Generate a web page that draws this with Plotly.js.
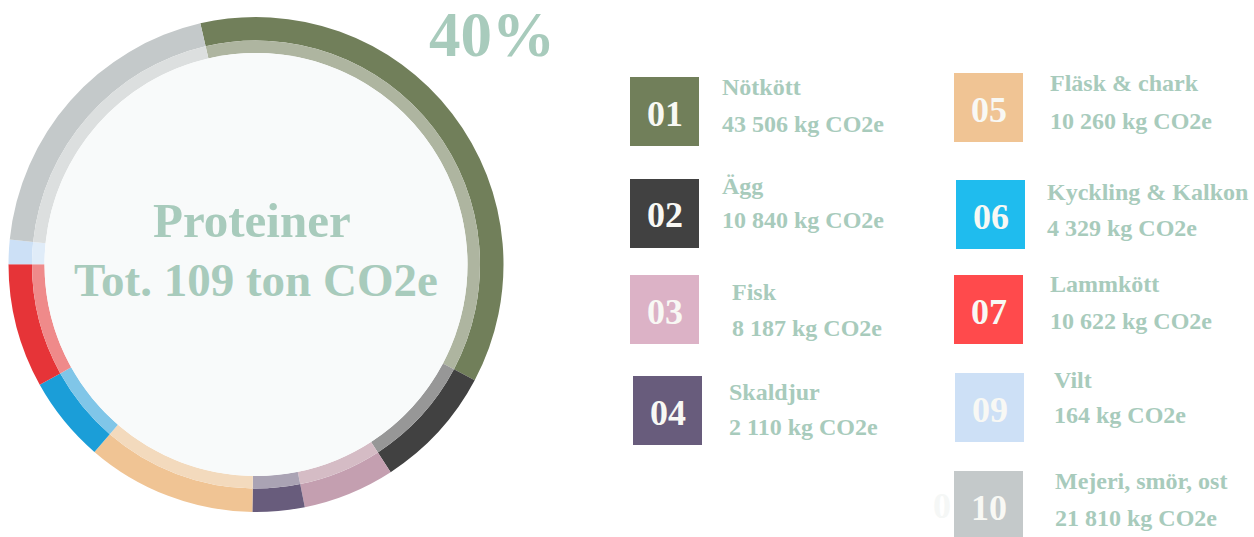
<!DOCTYPE html>
<html>
<head>
<meta charset="utf-8">
<script src="https://cdn.plot.ly/plotly-3.0.1.min.js"></script>
<style>
html,body{margin:0;padding:0;background:#ffffff;}
#chart{width:1254px;height:537px;}
</style>
</head>
<body>
<div id="chart"></div>
<script>
// ---- data ----
var codes = ["01", "02", "03", "04", "05", "06", "07", "09", "10"];
var categories = ["Nötkött", "Ägg", "Fisk", "Skaldjur", "Fläsk & chark", "Kyckling & Kalkon", "Lammkött", "Vilt", "Mejeri, smör, ost"];
var emissionsKg = [43506, 10840, 8187, 2110, 10260, 4329, 10622, 164, 21810];
// share of the ring as drawn in the picture (percent)
var ringShare = [36.4, 8.1, 6.0, 3.4, 11.1, 5.6, 8.1, 1.6, 19.8];
var outerColors = ["#717f5a", "#414141", "#c49fb0", "#685c7c", "#f0c494", "#1b9ed8", "#e63438", "#cce0f6", "#c4c9ca"];
var innerColors = ["#aeb5a0", "#979797", "#d5bcc5", "#aaa3b4", "#f3dabd", "#80c6e8", "#ef8a8a", "#e0ecf8", "#dcdfdf"];
var boxColors = ["#717f5a", "#414141", "#dcb2c6", "#685c7c", "#f0c494", "#1fbcee", "#ff4a4c", "#cde0f6", "#c4c9ca"];
var centerTitle = "Proteiner";
var centerTotal = "Tot. 109 ton CO2e";
var topShare = "40%";

// ---- layout helpers ----
var W = 1254, H = 537;
function px(x){ return x / W; }
function py(y){ return 1 - y / H; }
function dom(cx, cy, r){ return {x:[px(cx - r), px(cx + r)], y:[py(cy + r), py(cy - r)]}; }

var CX = 256, CY = 264.5, R_OUT = 247.5, R_MID = 224, R_IN = 211.5;
var START = -13;
var textColor = "#a8cbbc";
var fontFam = "Liberation Serif, Times New Roman, serif";

var traces = [
  {type:"pie", values:ringShare, labels:categories, sort:false, direction:"clockwise", rotation:START,
   hole:R_MID / R_OUT, domain:dom(CX, CY, R_OUT), textinfo:"none", hoverinfo:"skip",
   marker:{colors:outerColors, line:{width:0}}, showlegend:false},
  {type:"pie", values:ringShare, labels:categories, sort:false, direction:"clockwise", rotation:START,
   hole:R_IN / R_MID, domain:dom(CX, CY, R_MID), textinfo:"none", hoverinfo:"skip",
   marker:{colors:innerColors, line:{width:0}}, showlegend:false},
  {type:"pie", values:[1], labels:["center"], sort:false, domain:dom(CX, CY, R_IN), textinfo:"none",
   hoverinfo:"skip", marker:{colors:["#f8fafa"], line:{width:0}}, showlegend:false}
];

// legend placement (pixel positions of boxes and text)
var boxPos = [[630,77],[630,179],[630,275],[633,376],[954,73],[956,180],[954,275],[955,373],[954,471]];
var labelPos = [[720,87,124],[720,186,220],[730,292,328],[727,392,427],[1048,83,121],[1045,192,228],[1048,284,321],[1052,380,415],[1053,481,518]];
var BOX = 69;

function fmt(v){
  var s = String(v);
  if (s.length > 3) s = s.slice(0, s.length - 3) + "\u00a0" + s.slice(s.length - 3);
  return s + " kg CO2e";
}

var shapes = [];
var annotations = [];
for (var i = 0; i < codes.length; i++){
  var bx = boxPos[i][0], by = boxPos[i][1];
  shapes.push({type:"rect", xref:"paper", yref:"paper", x0:px(bx), x1:px(bx + BOX), y0:py(by + BOX), y1:py(by),
    fillcolor:boxColors[i], line:{width:0}, layer:"above"});
  annotations.push({xref:"paper", yref:"paper", x:px(bx + BOX/2), y:py(by + BOX/2 + 2), text:"<b>" + codes[i] + "</b>", showarrow:false,
    xanchor:"center", yanchor:"middle", font:{family:fontFam, size:36, color:"#f8f8f4"}});
  var lp = labelPos[i];
  annotations.push({xref:"paper", yref:"paper", x:px(lp[0]), y:py(lp[1]), text:"<b>" + categories[i] + "</b>", showarrow:false,
    xanchor:"left", yanchor:"middle", font:{family:fontFam, size:24, color:textColor}});
  annotations.push({xref:"paper", yref:"paper", x:px(lp[0]), y:py(lp[2]), text:"<b>" + fmt(emissionsKg[i]) + "</b>", showarrow:false,
    xanchor:"left", yanchor:"middle", font:{family:fontFam, size:24, color:textColor}});
}
// faint ghost digit left of box 10
annotations.push({xref:"paper", yref:"paper", x:px(953), y:py(506), text:"<b>0</b>", showarrow:false,
  xanchor:"right", yanchor:"middle", font:{family:fontFam, size:36, color:"#f5f7f6"}});

annotations.push({xref:"paper", yref:"paper", x:px(252), y:py(220), text:"<b>" + centerTitle + "</b>", showarrow:false,
  xanchor:"center", yanchor:"middle", font:{family:fontFam, size:49, color:textColor}});
annotations.push({xref:"paper", yref:"paper", x:px(256), y:py(280), text:"<b>" + centerTotal + "</b>", showarrow:false,
  xanchor:"center", yanchor:"middle", font:{family:fontFam, size:47, color:textColor}});
annotations.push({xref:"paper", yref:"paper", x:px(492), y:py(35), text:"<b>" + topShare + "</b>", showarrow:false,
  xanchor:"center", yanchor:"middle", font:{family:fontFam, size:63, color:textColor}});

var layout = {
  width:W, height:H, margin:{l:0, r:0, t:0, b:0},
  paper_bgcolor:"#ffffff", plot_bgcolor:"#ffffff",
  showlegend:false, shapes:shapes, annotations:annotations
};

Plotly.newPlot("chart", traces, layout, {staticPlot:true, displayModeBar:false});
</script>
</body>
</html>
